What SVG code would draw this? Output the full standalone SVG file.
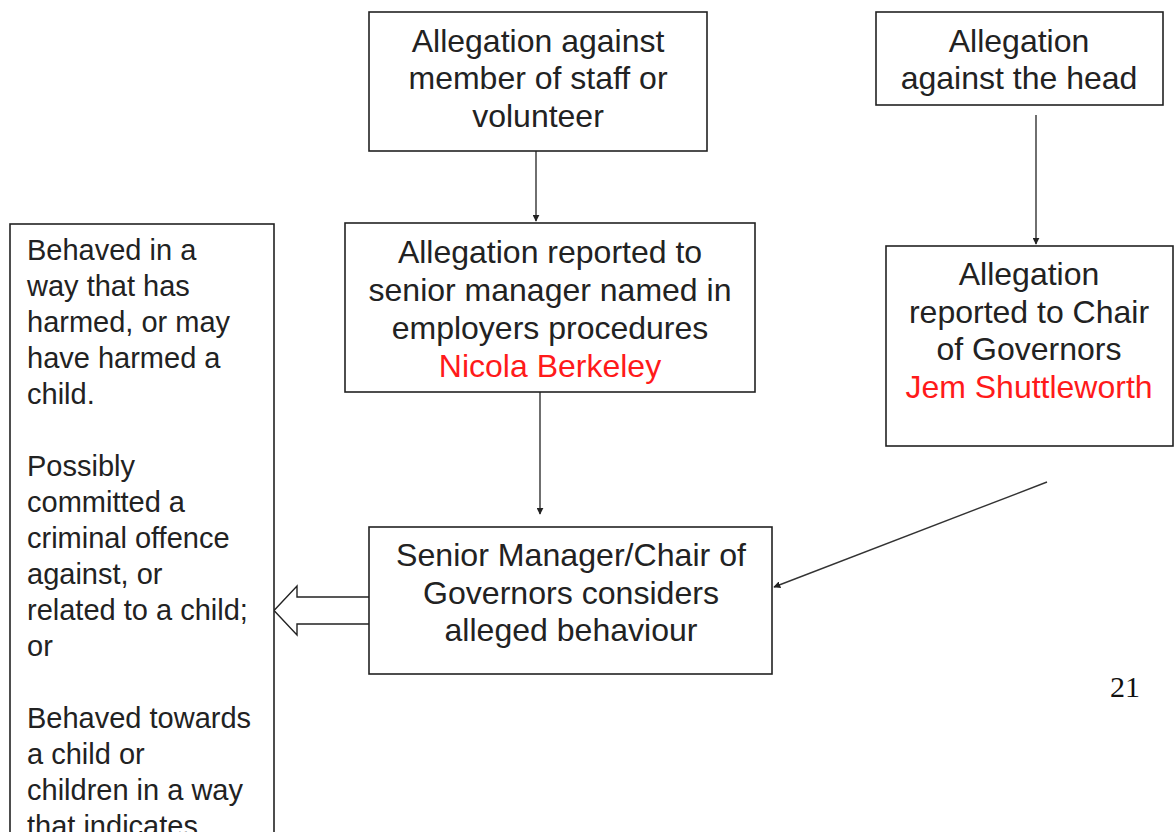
<svg xmlns="http://www.w3.org/2000/svg" width="1175" height="832" viewBox="0 0 1175 832">
<style>
.box{fill:#fff;stroke:#222;stroke-width:1.6}
.t{font-family:"Liberation Sans",Arial,sans-serif;font-size:32px;fill:#222;text-anchor:middle}
.tl{font-family:"Liberation Sans",Arial,sans-serif;font-size:29px;fill:#222}
.red{fill:#ff1a1a}
.line{stroke:#333;stroke-width:1.4;fill:none}
</style>
<defs>
<marker id="ah" viewBox="0 0 10 10" refX="9" refY="5" markerWidth="7" markerHeight="7" markerUnits="userSpaceOnUse" orient="auto">
<path d="M0,0 L10,5 L0,10 z" fill="#222"/>
</marker>
</defs>
<rect width="1175" height="832" fill="#fff"/>
<g id="connectors">
<line class="line" x1="536" y1="151" x2="536" y2="221" marker-end="url(#ah)"/>
<line class="line" x1="1036" y1="115" x2="1036" y2="244" marker-end="url(#ah)"/>
<line class="line" x1="540" y1="392" x2="540" y2="514" marker-end="url(#ah)"/>
<line class="line" x1="1047" y1="482" x2="774" y2="587" marker-end="url(#ah)"/>
<path d="M369,597 L297,597 L297,586 L274,610.5 L297,635 L297,624 L369,624" fill="#fff" stroke="#222" stroke-width="1.4"/>
</g>
<g id="n1">
<rect class="box" x="369" y="12" width="338" height="139"/>
<text class="t" x="538" y="52">Allegation against</text>
<text class="t" x="538" y="89">member of staff or</text>
<text class="t" x="538" y="127">volunteer</text>
</g>
<g id="n2">
<rect class="box" x="876" y="12" width="287" height="93"/>
<text class="t" x="1019" y="52">Allegation</text>
<text class="t" x="1019" y="89">against the head</text>
</g>
<g id="n3">
<rect class="box" x="345" y="223" width="410" height="169"/>
<text class="t" x="550" y="263">Allegation reported to</text>
<text class="t" x="550" y="301">senior manager named in</text>
<text class="t" x="550" y="339">employers procedures</text>
<text class="t red" x="550" y="377">Nicola Berkeley</text>
</g>
<g id="n4">
<rect class="box" x="886" y="246" width="287" height="200"/>
<text class="t" x="1029" y="285">Allegation</text>
<text class="t" x="1029" y="323">reported to Chair</text>
<text class="t" x="1029" y="360">of Governors</text>
<text class="t red" x="1029" y="398">Jem Shuttleworth</text>
</g>
<g id="n5">
<rect class="box" x="369" y="527" width="403" height="147"/>
<text class="t" x="571" y="566" textLength="350" lengthAdjust="spacingAndGlyphs">Senior Manager/Chair of</text>
<text class="t" x="571" y="604" textLength="296" lengthAdjust="spacingAndGlyphs">Governors considers</text>
<text class="t" x="571" y="641" textLength="253" lengthAdjust="spacingAndGlyphs">alleged behaviour</text>
</g>
<g id="n6">
<rect class="box" x="10" y="224" width="264" height="640"/>
<text class="tl" x="27" y="260">Behaved in a</text>
<text class="tl" x="27" y="296">way that has</text>
<text class="tl" x="27" y="332">harmed, or may</text>
<text class="tl" x="27" y="368">have harmed a</text>
<text class="tl" x="27" y="404">child.</text>
<text class="tl" x="27" y="476">Possibly</text>
<text class="tl" x="27" y="512">committed a</text>
<text class="tl" x="27" y="548">criminal offence</text>
<text class="tl" x="27" y="584">against, or</text>
<text class="tl" x="27" y="620">related to a child;</text>
<text class="tl" x="27" y="656">or</text>
<text class="tl" x="27" y="728">Behaved towards</text>
<text class="tl" x="27" y="764">a child or</text>
<text class="tl" x="27" y="800">children in a way</text>
<text class="tl" x="27" y="836">that indicates</text>
</g>
<text x="1110" y="697" font-family="'Liberation Serif','Times New Roman',serif" font-size="30" fill="#111">21</text>
</svg>
